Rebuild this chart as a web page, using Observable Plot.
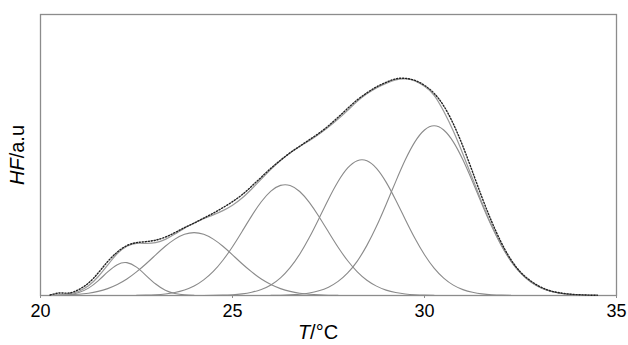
<!DOCTYPE html>
<html>
<head>
<meta charset="utf-8">
<script src="https://cdn.jsdelivr.net/npm/d3@7"></script>
<script src="https://cdn.jsdelivr.net/npm/@observablehq/plot@0.6"></script>
<style>
  html, body { margin: 0; padding: 0; background: #fff; }
  #chart svg { display: block; }
</style>
</head>
<body>
<div id="chart"></div>
<script>
// Temperature grid (°C)
const T = [20.25, 20.5, 20.75, 21, 21.25, 21.5, 21.75, 22, 22.25, 22.5, 22.75, 23, 23.25, 23.5, 23.75, 24,
  24.25, 24.5, 24.75, 25, 25.25, 25.5, 25.75, 26, 26.25, 26.5, 26.75, 27, 27.25, 27.5, 27.75, 28,
  28.25, 28.5, 28.75, 29, 29.25, 29.5, 29.75, 30, 30.25, 30.5, 30.75, 31, 31.25, 31.5, 31.75, 32,
  32.25, 32.5, 32.75, 33, 33.25, 33.5, 33.75, 34, 34.25, 34.5];

// Deconvoluted component peaks (a.u.)
const peak1 = [0.06, 0.28, 1.0, 3.05, 7.4, 14.7, 23.6, 30.9, 32.9, 28.4, 20.0, 11.5, 5.3, 2.0, 0.62, 0.16,
  0, 0, 0, 0, 0, 0, 0, 0, 0, 0, 0, 0, 0, 0, 0, 0, 0, 0, 0, 0, 0, 0, 0, 0, 0, 0, 0, 0, 0, 0, 0, 0, 0, 0, 0, 0, 0, 0, 0, 0, 0, 0];
const peak2 = [0.13, 0.3, 0.6, 1.2, 2.3, 4.1, 6.9, 11.0, 16.5, 23.6, 31.8, 40.7, 49.3, 56.5, 61.3, 63,
  61.3, 56.5, 49.3, 40.7, 31.8, 23.6, 16.5, 11.0, 6.9, 4.1, 2.3, 1.2, 0.6, 0.3, 0.14,
  0, 0, 0, 0, 0, 0, 0, 0, 0, 0, 0, 0, 0, 0, 0, 0, 0, 0, 0, 0, 0, 0, 0, 0, 0, 0, 0];
const peak3 = [0, 0, 0, 0, 0, 0, 0, 0, 0, 0.16, 0.36, 0.78, 1.58, 3.04, 5.54, 9.5,
  15.6, 24.1, 35.3, 48.9, 64.2, 79.8, 93.9, 104.6, 110.3, 110.2, 104.2, 93.3, 79.2, 63.6, 48.3, 34.8,
  23.7, 15.3, 9.4, 5.4, 3.0, 1.54, 0.76, 0.35, 0.16, 0, 0, 0, 0, 0, 0, 0, 0, 0, 0, 0, 0, 0, 0, 0, 0, 0];
const peak4 = [0, 0, 0, 0, 0, 0, 0, 0, 0, 0, 0, 0, 0, 0, 0, 0,
  0.06, 0.15, 0.36, 0.79, 1.64, 3.25, 6.05, 10.6, 17.7, 27.9, 41.4, 58.1, 77.0, 96.5, 114.2, 127.8,
  135.1, 135.0, 127.4, 113.6, 95.7, 76.2, 57.3, 40.8, 27.4, 17.4, 10.4, 5.9, 3.2, 1.6, 0.77, 0.35,
  0.15, 0, 0, 0, 0, 0, 0, 0, 0, 0];
const peak5 = [0, 0, 0, 0, 0, 0, 0, 0, 0, 0, 0, 0, 0, 0, 0, 0, 0, 0, 0, 0, 0, 0, 0,
  0.13, 0.29, 0.63, 1.3, 2.5, 4.7, 8.3, 14.1, 22.6, 34.5, 50.2, 69.3, 91.2, 114.1, 135.9, 153.9, 165.8,
  170, 165.8, 153.9, 135.9, 114.1, 91.2, 69.3, 50.2, 34.5, 22.6, 14.1, 8.3, 4.7, 2.5, 1.3, 0.63, 0.29, 0.13];

// Fitted envelope (a.u.)
const fitted = [0.2, 0.6, 1.6, 4.3, 9.7, 18.8, 30.5, 41.9, 49.4, 52.2, 52.2, 53.0, 56.2, 61.5, 67.5, 72.7,
  77.0, 80.8, 85.0, 90.4, 97.6, 106.7, 116.5, 126.3, 135.2, 142.8, 149.2, 155.1, 161.5, 168.7, 176.7, 185.5,
  194.5, 202.0, 208.0, 212.5, 216.0, 217.0, 215.0, 209.5, 200.5, 184.5, 164.8, 141.8, 117.3, 92.8, 70.1, 50.6,
  34.7, 22.6, 14.1, 8.3, 4.7, 2.5, 1.3, 0.63, 0.29, 0.13];

// Measured heat flow (a.u.)
const measured = [0.5, 2.5, 2.5, 6.0, 12.5, 22.5, 34.0, 43.5, 50.0, 53.0, 54.0, 55.5, 58.5, 63.0, 68.0, 72.5,
  77.5, 82.5, 88.0, 94.0, 101.0, 109.5, 118.5, 127.5, 135.5, 143.0, 149.5, 156.0, 162.5, 170.0, 178.5, 187.5,
  196.0, 203.0, 209.0, 213.5, 217.0, 217.5, 215.5, 210.5, 202.5, 190.0, 172.0, 149.5, 124.0, 98.0, 74.0, 53.0,
  36.0, 23.5, 15.0, 9.0, 5.0, 2.8, 1.5, 0.8, 0.4, 0.2];

const xTicks = [20, 25, 30, 35];

const peaks = [peak1, peak2, peak3, peak4, peak5];
const compRows = peaks.flatMap((arr, k) =>
  T.map((t, i) => ({t, v: arr[i], peak: "p" + (k + 1)})).filter(d => d.v > 0));
const fitRows = T.map((t, i) => ({t, v: fitted[i]}));
const measRows = T.map((t, i) => ({t, v: measured[i]}));

const FONT = "Liberation Sans, Arial, Helvetica, sans-serif";

const chart = Plot.plot({
  width: 628,
  height: 345,
  marginLeft: 40,
  marginRight: 12,
  marginTop: 14,
  marginBottom: 50,
  style: {fontFamily: FONT, background: "#fff", color: "#000"},
  x: {domain: [20, 35]},
  y: {domain: [0, 281.5], axis: null},
  marks: [
    Plot.frame({stroke: "#8c8c8c", strokeWidth: 1.3}),
    Plot.axisX({ticks: xTicks, tickSize: 3, tickPadding: 6, fontSize: 18, label: null, stroke: "#8c8c8c", fill: "#000"}),
    Plot.line(compRows, {x: "t", y: "v", z: "peak", stroke: "#8a8a8a", strokeWidth: 1.1, curve: "natural"}),
    Plot.line(fitRows, {x: "t", y: "v", stroke: "#9a9a9a", strokeWidth: 1.2, curve: "natural"}),
    Plot.line(measRows, {x: "t", y: "v", stroke: "#222", strokeWidth: 1.4, strokeDasharray: "1.2,1.8", curve: "natural"})
  ]
});

document.getElementById("chart").appendChild(chart);

const svg = d3.select(chart);
const xt = svg.append("text")
  .attr("x", 318).attr("y", 339)
  .attr("text-anchor", "middle")
  .attr("font-family", FONT).attr("font-size", 20).attr("fill", "#000");
xt.append("tspan").attr("font-style", "italic").text("T");
xt.append("tspan").text("/°C");

const yt = svg.append("text")
  .attr("transform", "translate(24,155) rotate(-90)")
  .attr("text-anchor", "middle")
  .attr("font-family", FONT).attr("font-size", 20).attr("fill", "#000");
yt.append("tspan").attr("font-style", "italic").text("HF");
yt.append("tspan").text("/a.u");
</script>
</body>
</html>
